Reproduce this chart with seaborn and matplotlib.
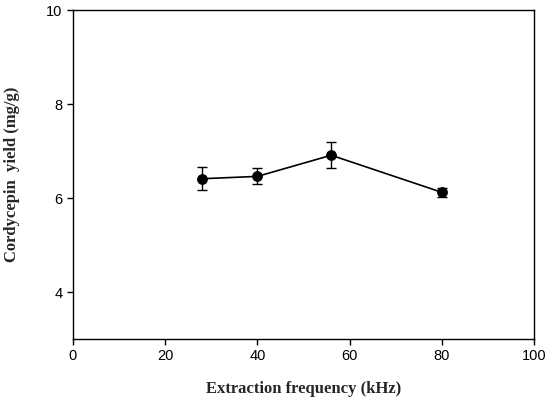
import matplotlib
matplotlib.use("Agg")
import matplotlib.pyplot as plt
import seaborn as sns
import pandas as pd

# Values
frequency = [28, 40, 56, 80]
yield_mean = [6.41, 6.46, 6.91, 6.12]
yield_err = [0.24, 0.17, 0.28, 0.09]

x_ticks = [0, 20, 40, 60, 80, 100]
y_ticks = [4, 6, 8, 10]

df = pd.DataFrame({"freq": frequency, "yield": yield_mean, "err": yield_err})

sns.set_style("ticks")
plt.rcParams["font.family"] = ["Liberation Sans", "DejaVu Sans"]

fig = plt.figure(figsize=(5.5, 4), dpi=100)
ax = fig.add_axes([0.1327, 0.1525, 0.8385, 0.8225])

# error bars first, then line + markers on top
ax.errorbar(df["freq"], df["yield"], yerr=df["err"], fmt="none",
            ecolor="black", elinewidth=1.0, capsize=3.6, capthick=1.0, zorder=2)
sns.lineplot(data=df, x="freq", y="yield", ax=ax, color="black",
             marker="o", markersize=7, markeredgecolor="black",
             linewidth=1.2, zorder=3)

ax.set_xlim(0, 100)
ax.set_ylim(3, 10)
ax.set_xticks(x_ticks)
ax.set_yticks(y_ticks)
ax.tick_params(direction="out", length=4, width=1, labelsize=10.5,
               colors="black", top=False, right=False)
for side in ["left", "right", "top", "bottom"]:
    ax.spines[side].set_visible(True)
    ax.spines[side].set_color("black")
    ax.spines[side].set_linewidth(1.0)

ax.set_xlabel("Extraction frequency (kHz)", family=["Liberation Serif"],
              fontweight="bold", fontsize=12, labelpad=13)
ax.set_ylabel("Cordycepin  yield (mg/g)", family=["Liberation Serif"],
              fontweight="bold", fontsize=12, labelpad=19)

fig.savefig("out.png", dpi=100)
